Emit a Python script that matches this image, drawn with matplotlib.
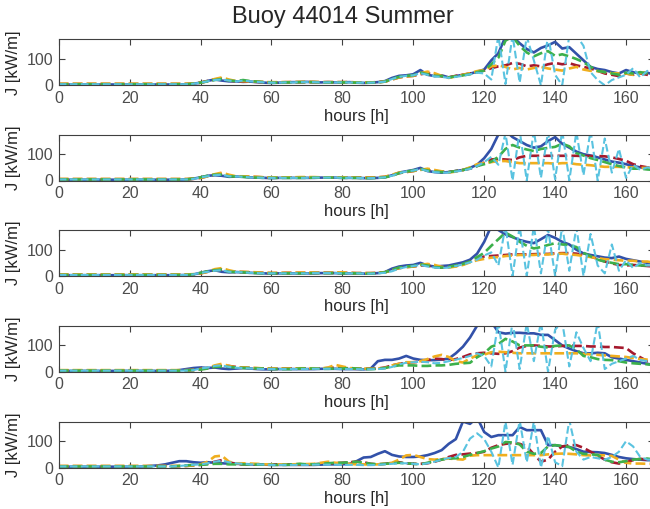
import numpy as np
import matplotlib.pyplot as plt

plt.rcParams['font.family'] = ['Liberation Sans', 'DejaVu Sans']

hours = np.arange(0, 169, 2)

# wave power flux [kW/m] per forecast, one block per run
p1_blue = [3, 3, 3, 3, 3, 3, 3, 3, 3, 3,
           3, 3, 3, 3, 3, 3, 3, 3, 4, 6,
           10, 17, 22, 18, 15, 15, 13, 14, 12, 10,
           9, 10, 11, 12, 12, 13, 12, 11, 12, 11,
           11, 12, 10, 9, 10, 12, 16, 28, 36, 38,
           42, 58, 40, 35, 38, 30, 35, 40, 44, 52,
           60, 95, 122, 185, 185, 160, 138, 125, 142, 152,
           165, 140, 145, 120, 95, 70, 62, 58, 50, 45,
           58, 50, 45, 48, 40]
p1_green = [4, 4, 4, 4, 4, 4, 4, 4, 4, 4,
            4, 4, 4, 4, 4, 4, 4, 4, 4, 6,
            10, 15, 20, 24, 18, 16, 20, 16, 14, 12,
            10, 10, 11, 11, 12, 12, 12, 11, 11, 11,
            11, 11, 10, 10, 10, 11, 14, 24, 32, 36,
            38, 48, 42, 36, 35, 30, 34, 38, 42, 50,
            56, 80, 105, 170, 185, 150, 125, 110, 122, 130,
            112, 118, 110, 100, 88, 70, 55, 50, 45, 40,
            48, 45, 50, 45, 40]
p1_red = [5, 5, 5, 5, 5, 5, 5, 5, 5, 5,
          5, 5, 5, 5, 5, 5, 5, 5, 5, 6,
          10, 16, 22, 26, 18, 15, 15, 14, 13, 12,
          11, 11, 12, 12, 12, 12, 12, 12, 12, 12,
          12, 12, 11, 11, 11, 12, 14, 22, 30, 34,
          36, 42, 46, 40, 34, 30, 36, 40, 45, 50,
          56, 65, 72, 76, 85, 82, 72, 76, 72, 80,
          85, 80, 84, 76, 70, 64, 55, 45, 40, 35,
          45, 40, 45, 40, 32]
p1_orange = [6, 6, 6, 6, 6, 6, 6, 6, 6, 6,
             6, 6, 6, 6, 6, 6, 6, 6, 6, 7,
             10, 16, 24, 30, 22, 16, 16, 15, 14, 12,
             12, 12, 12, 12, 13, 13, 13, 12, 12, 12,
             12, 12, 11, 11, 11, 12, 14, 22, 30, 34,
             36, 46, 52, 46, 36, 28, 34, 40, 46, 54,
             58, 72, 76, 70, 60, 66, 60, 66, 70, 64,
             60, 56, 64, 70, 60, 55, 54, 50, 46, 45,
             45, 40, 46, 50, 40]
p1_cyan = [4, 4, 4, 4, 4, 4, 4, 4, 4, 4,
           4, 4, 4, 4, 4, 4, 4, 4, 4, 6,
           10, 15, 20, 22, 18, 15, 18, 15, 13, 11,
           10, 10, 11, 11, 12, 12, 12, 11, 11, 11,
           11, 11, 10, 10, 10, 11, 14, 24, 32, 36,
           38, 46, 40, 34, 32, 28, 32, 36, 42, 48,
           45, 22, 190, 5, 190, 10, 185, 95, 0, 190,
           40, 0, 190, 190, 150, 50, 20, 0, 20, 30,
           40, 65, 30, 55, 40]

p2_blue = [3, 3, 3, 3, 3, 3, 3, 3, 3, 3,
           3, 3, 3, 3, 3, 3, 3, 3, 4, 7,
           12, 18, 20, 18, 14, 15, 14, 12, 11, 10,
           9, 10, 10, 10, 10, 10, 10, 11, 11, 11,
           10, 10, 10, 9, 9, 10, 12, 20, 30, 35,
           40, 48, 36, 32, 30, 32, 36, 40, 48, 60,
           85, 120, 175, 190, 165, 150, 135, 125, 130, 150,
           165, 140, 125, 110, 100, 95, 88, 80, 72, 68,
           62, 55, 50, 45, 45]
p2_green = [4, 4, 4, 4, 4, 4, 4, 4, 4, 4,
            4, 4, 4, 4, 4, 4, 4, 4, 4, 7,
            12, 18, 22, 22, 16, 15, 14, 12, 11, 10,
            10, 10, 10, 10, 10, 10, 11, 11, 11, 11,
            10, 10, 10, 9, 9, 10, 12, 18, 28, 34,
            38, 44, 38, 34, 32, 32, 36, 40, 46, 55,
            62, 72, 90, 120, 135, 125, 118, 112, 120, 124,
            128, 140, 130, 104, 95, 85, 78, 70, 62, 55,
            50, 45, 45, 42, 40]
p2_red = [5, 5, 5, 5, 5, 5, 5, 5, 5, 5,
          5, 5, 5, 5, 5, 5, 5, 5, 5, 6,
          10, 16, 22, 26, 18, 15, 15, 14, 13, 12,
          11, 11, 12, 12, 12, 12, 12, 12, 12, 12,
          12, 12, 11, 11, 11, 12, 14, 20, 28, 32,
          36, 42, 40, 36, 34, 32, 36, 40, 45, 55,
          68, 80, 82, 80, 78, 88, 94, 94, 94, 94,
          94, 94, 94, 94, 93, 93, 93, 92, 88, 82,
          75, 62, 55, 50, 45]
p2_orange = [6, 6, 6, 6, 6, 6, 6, 6, 6, 6,
             6, 6, 6, 6, 6, 6, 6, 6, 6, 7,
             10, 16, 24, 30, 22, 16, 16, 15, 14, 12,
             12, 12, 12, 12, 13, 13, 13, 12, 12, 12,
             12, 12, 11, 11, 11, 12, 14, 22, 30, 34,
             36, 40, 45, 40, 35, 30, 34, 40, 50, 62,
             66, 70, 74, 74, 70, 66, 66, 66, 66, 66,
             64, 66, 66, 62, 60, 58, 55, 52, 52, 52,
             50, 50, 48, 48, 45]
p2_cyan = [4, 4, 4, 4, 4, 4, 4, 4, 4, 4,
           4, 4, 4, 4, 4, 4, 4, 4, 4, 6,
           12, 16, 20, 22, 16, 15, 14, 12, 11, 10,
           10, 10, 10, 10, 10, 10, 11, 11, 11, 11,
           10, 10, 10, 9, 9, 10, 12, 18, 28, 34,
           38, 44, 36, 32, 30, 30, 34, 38, 44, 55,
           70, 90, 60, 180, 0, 190, 0, 190, 10, 185,
           5, 190, 0, 185, 20, 190, 0, 160, 30, 120,
           10, 60, 40, 50, 45]

p3_blue = [3, 3, 3, 3, 3, 3, 3, 3, 3, 3,
           3, 3, 3, 3, 3, 3, 3, 3, 4, 6,
           12, 18, 22, 16, 14, 15, 14, 12, 11, 10,
           9, 10, 10, 10, 10, 10, 10, 11, 11, 11,
           10, 10, 10, 9, 9, 11, 15, 28, 36, 40,
           42, 50, 40, 36, 38, 40, 46, 52, 62, 85,
           130, 190, 175, 158, 148, 137, 130, 125, 140, 156,
           145, 130, 120, 100, 86, 80, 75, 70, 68, 74,
           65, 60, 55, 50, 48]
p3_green = [4, 4, 4, 4, 4, 4, 4, 4, 4, 4,
            4, 4, 4, 4, 4, 4, 4, 4, 4, 6,
            12, 18, 22, 24, 16, 15, 14, 12, 11, 10,
            10, 10, 10, 10, 10, 10, 11, 11, 11, 11,
            10, 10, 10, 9, 9, 11, 14, 24, 32, 36,
            38, 44, 40, 34, 32, 35, 40, 46, 55, 72,
            88, 115, 140, 165, 150, 130, 115, 105, 110, 118,
            125, 120, 118, 110, 88, 75, 62, 55, 50, 45,
            45, 42, 40, 40, 38]
p3_red = [5, 5, 5, 5, 5, 5, 5, 5, 5, 5,
          5, 5, 5, 5, 5, 5, 5, 5, 5, 6,
          10, 16, 22, 24, 18, 15, 15, 14, 13, 12,
          11, 11, 12, 12, 12, 12, 12, 12, 12, 12,
          12, 12, 11, 11, 11, 12, 14, 22, 30, 34,
          36, 40, 40, 34, 32, 34, 38, 44, 55, 66,
          74, 76, 78, 80, 82, 82, 82, 83, 84, 84,
          86, 87, 87, 85, 80, 74, 65, 55, 48, 42,
          40, 42, 40, 38, 36]
p3_orange = [6, 6, 6, 6, 6, 6, 6, 6, 6, 6,
             6, 6, 6, 6, 6, 6, 6, 6, 6, 7,
             10, 16, 26, 30, 22, 16, 16, 15, 14, 12,
             12, 12, 12, 12, 13, 13, 13, 12, 12, 14,
             14, 12, 11, 11, 11, 12, 14, 22, 30, 34,
             36, 42, 46, 42, 35, 32, 36, 42, 52, 60,
             65, 70, 72, 76, 78, 80, 80, 80, 82, 82,
             84, 85, 82, 80, 76, 72, 68, 64, 62, 60,
             58, 58, 55, 55, 50]
p3_cyan = [4, 4, 4, 4, 4, 4, 4, 4, 4, 4,
           4, 4, 4, 4, 4, 4, 4, 4, 4, 6,
           12, 16, 20, 22, 16, 15, 14, 12, 11, 10,
           10, 10, 10, 10, 10, 10, 11, 11, 11, 11,
           10, 10, 10, 9, 9, 10, 12, 18, 28, 34,
           38, 42, 36, 32, 30, 32, 38, 44, 52, 62,
           78, 90, 40, 190, 0, 190, 0, 190, 10, 180,
           0, 190, 20, 185, 0, 160, 40, 10, 120, 20,
           60, 30, 50, 40, 40]

p4_blue = [3, 3, 3, 3, 3, 3, 3, 3, 3, 3,
           3, 3, 3, 3, 3, 3, 4, 6, 10, 14,
           16, 14, 16, 12, 10, 12, 14, 12, 10, 9,
           9, 10, 10, 10, 10, 10, 10, 11, 11, 11,
           10, 10, 10, 9, 12, 40, 45, 45, 50, 60,
           50, 45, 44, 44, 46, 50, 70, 95, 130, 175,
           190, 190, 150, 145, 148, 148, 146, 146, 140, 140,
           120, 100, 88, 78, 70, 70, 72, 70, 55, 50,
           45, 40, 35, 30, 25]
p4_green = [4, 4, 4, 4, 4, 4, 4, 4, 4, 4,
            4, 4, 4, 4, 4, 4, 4, 4, 5, 6,
            8, 12, 18, 20, 18, 16, 14, 14, 12, 12,
            10, 10, 10, 10, 12, 12, 12, 11, 11, 12,
            12, 14, 12, 10, 10, 11, 14, 20, 24, 24,
            24, 22, 22, 24, 24, 26, 30, 32, 34, 55,
            70, 95, 105, 125, 115, 100, 100, 100, 95, 92,
            98, 100, 100, 85, 60, 55, 48, 45, 44, 40,
            35, 32, 30, 28, 25]
p4_red = [5, 5, 5, 5, 5, 5, 5, 5, 5, 5,
          5, 5, 5, 5, 5, 5, 5, 5, 5, 6,
          10, 14, 18, 22, 22, 18, 16, 14, 13, 12,
          11, 11, 12, 12, 12, 12, 12, 12, 14, 16,
          14, 12, 11, 11, 11, 12, 16, 24, 30, 34,
          36, 38, 44, 50, 48, 44, 48, 56, 66, 70,
          72, 70, 68, 70, 78, 92, 98, 100, 98, 96,
          96, 98, 100, 98, 98, 96, 96, 94, 94, 92,
          90, 70, 55, 40, 35]
p4_orange = [6, 6, 6, 6, 6, 6, 6, 6, 6, 6,
             6, 6, 6, 6, 6, 6, 6, 6, 6, 7,
             10, 14, 24, 30, 22, 16, 16, 15, 14, 12,
             12, 12, 12, 12, 13, 13, 13, 12, 16, 26,
             20, 14, 12, 12, 11, 12, 14, 24, 30, 36,
             36, 40, 48, 58, 64, 56, 40, 35, 50, 62,
             65, 74, 76, 74, 72, 70, 70, 70, 70, 70,
             70, 70, 70, 70, 68, 66, 64, 62, 60, 58,
             56, 52, 48, 46, 44]
p4_cyan = [4, 4, 4, 4, 4, 4, 4, 4, 4, 4,
           4, 4, 4, 4, 4, 4, 4, 4, 4, 6,
           12, 16, 22, 24, 18, 15, 14, 12, 11, 10,
           10, 10, 10, 10, 10, 10, 11, 11, 11, 11,
           10, 10, 10, 9, 9, 10, 12, 18, 28, 34,
           36, 38, 36, 32, 34, 40, 46, 52, 60, 70,
           60, 20, 190, 0, 190, 10, 185, 40, 190, 0,
           160, 190, 20, 150, 90, 40, 190, 10, 30, 40,
           50, 60, 45, 40, 35]

p5_blue = [3, 3, 3, 3, 3, 3, 3, 3, 3, 3,
           3, 3, 4, 6, 8, 12, 18, 24, 24, 20,
           18, 20, 18, 16, 15, 14, 13, 12, 11, 11,
           10, 10, 10, 10, 10, 10, 10, 11, 12, 12,
           12, 14, 24, 38, 40, 52, 62, 48, 42, 40,
           40, 42, 47, 55, 66, 90, 108, 175, 166, 190,
           135, 116, 123, 123, 123, 154, 142, 142, 142, 85,
           85, 80, 78, 70, 60, 59, 58, 55, 48, 40,
           35, 32, 30, 28, 28]
p5_green = [4, 4, 4, 4, 4, 4, 4, 4, 4, 4,
            4, 4, 4, 4, 4, 4, 4, 6, 8, 10,
            10, 12, 14, 14, 12, 12, 12, 11, 11, 11,
            10, 10, 10, 12, 14, 12, 12, 14, 16, 18,
            18, 20, 22, 18, 14, 12, 14, 16, 18, 16,
            14, 12, 18, 24, 30, 34, 35, 40, 48, 55,
            62, 72, 80, 97, 95, 88, 60, 52, 55, 80,
            85, 82, 78, 60, 52, 50, 48, 30, 22, 20,
            24, 30, 32, 34, 30]
p5_red = [5, 5, 5, 5, 5, 5, 5, 5, 5, 5,
          5, 5, 5, 5, 5, 5, 5, 5, 6, 8,
          10, 14, 22, 28, 20, 14, 12, 12, 12, 12,
          12, 12, 12, 12, 12, 12, 12, 14, 16, 16,
          18, 20, 22, 20, 14, 12, 14, 18, 20, 16,
          14, 14, 16, 22, 30, 40, 48, 50, 53, 55,
          60, 75, 85, 90, 93, 90, 80, 50, 22, 30,
          60, 80, 85, 85, 75, 60, 45, 30, 20, 15,
          20, 28, 33, 30, 28]
p5_orange = [6, 6, 6, 6, 6, 6, 6, 6, 6, 6,
             6, 6, 6, 6, 6, 6, 6, 6, 6, 8,
             12, 22, 42, 45, 22, 16, 16, 15, 14, 12,
             12, 12, 12, 12, 13, 13, 14, 18, 22, 18,
             16, 14, 12, 12, 11, 12, 14, 18, 30, 46,
             48, 40, 32, 30, 32, 34, 32, 30, 45, 47,
             47, 47, 47, 47, 47, 47, 47, 47, 47, 50,
             52, 53, 52, 50, 47, 46, 47, 46, 44, 30,
             18, 15, 15, 14, 14]
p5_cyan = [4, 4, 4, 4, 4, 4, 4, 4, 4, 4,
           4, 4, 4, 4, 4, 4, 4, 6, 8, 10,
           12, 16, 22, 26, 20, 16, 14, 12, 12, 11,
           10, 10, 10, 10, 10, 10, 11, 11, 11, 11,
           10, 10, 10, 9, 9, 10, 12, 14, 16, 16,
           14, 12, 16, 22, 30, 36, 40, 60, 110, 130,
           108, 60, 0, 175, 10, 180, 20, 175, 0, 120,
           20, 5, 180, 60, 30, 40, 35, 30, 40, 60,
           100, 80, 40, 30, 30]

panels = [
    (p1_blue, p1_red, p1_orange, p1_green, p1_cyan),
    (p2_blue, p2_red, p2_orange, p2_green, p2_cyan),
    (p3_blue, p3_red, p3_orange, p3_green, p3_cyan),
    (p4_blue, p4_red, p4_orange, p4_green, p4_cyan),
    (p5_blue, p5_red, p5_orange, p5_green, p5_cyan),
]

colors = ['#3251a9', '#a5192d', '#f0ae1e', '#3cb04b', '#5ac3e0']
styles = ['-', '--', '--', '--', '--']
widths = [1.9, 1.9, 1.9, 1.9, 1.5]

W, H = 650, 509
fig = plt.figure(figsize=(W / 100, H / 100), dpi=100)

tops = [39.3, 134.5, 230, 325.7, 421.5]
ax_h = 46
left = 58.7
right = 654.4

for top, series in zip(tops, panels):
    ax = fig.add_axes([left / W, 1 - (top + ax_h) / H, (right - left) / W, ax_h / H])
    for vals, c, ls, lw in zip(series, colors, styles, widths):
        ax.plot(hours, vals, color=c, linestyle=ls, linewidth=lw)
    ax.set_xlim(0, 168)
    ax.set_ylim(0, 175)
    ax.set_xticks(range(0, 161, 20))
    ax.set_yticks([0, 100])
    ax.tick_params(direction='in', length=4, width=0.8, top=True, right=True,
                   labelsize=11.5, colors='#404040', labelcolor='#4d4d4d')
    ax.tick_params(axis='x', pad=4)
    ax.tick_params(axis='y', pad=4)
    for s in ax.spines.values():
        s.set_color('#404040')
        s.set_linewidth(0.8)
    ax.set_xlabel('hours [h]', fontsize=12, color='#262626', labelpad=2)
    ax.set_ylabel('J [kW/m]', fontsize=12, color='#262626')
    ax.yaxis.set_label_coords(-0.063, 0.5)

fig.text(343 / W, 1 - 17 / H, 'Buoy 44014 Summer', ha='center', va='center',
         fontsize=17, color='#262626')

fig.savefig('out.png', dpi=100)
